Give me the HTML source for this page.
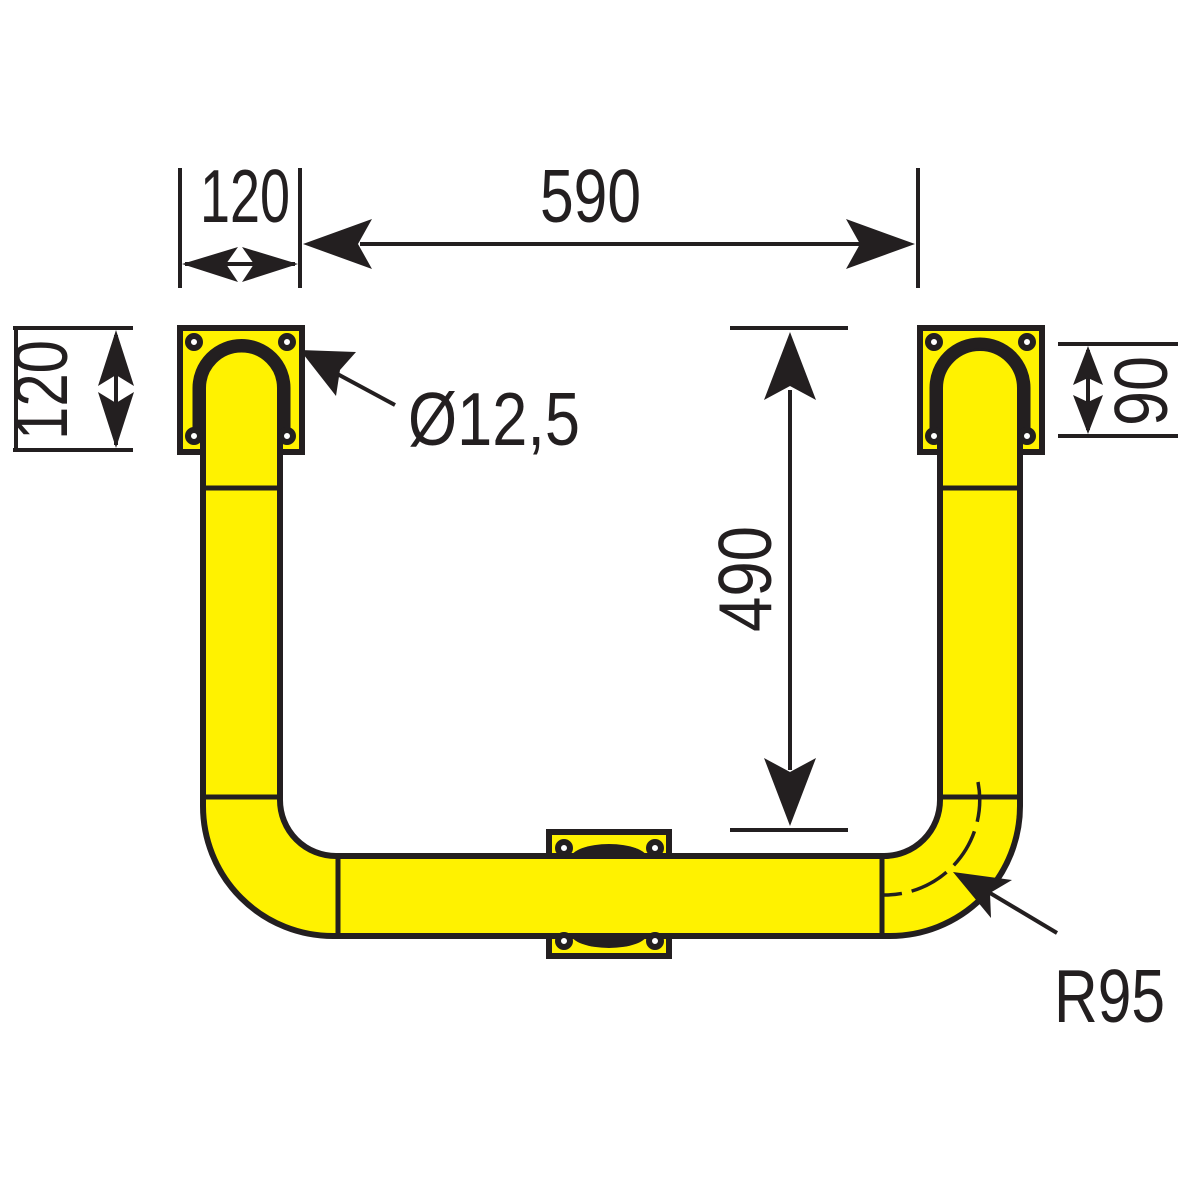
<!DOCTYPE html>
<html><head><meta charset="utf-8"><style>
html,body{margin:0;padding:0;background:#fff;}
svg{display:block}
text{font-family:"Liberation Sans",sans-serif;fill:#231f20;}
</style></head><body>
<svg width="1200" height="1200" viewBox="0 0 1200 1200" xmlns="http://www.w3.org/2000/svg">
<g stroke="#231f20" fill="#fff200">
<rect x="180" y="328" width="122" height="124" stroke-width="6"/>
<rect x="920" y="328" width="122" height="124" stroke-width="6"/>
<rect x="549" y="832" width="120" height="124" stroke-width="6"/>
<ellipse cx="609" cy="858" rx="38" ry="14" fill="#231f20" stroke="none"/>
<ellipse cx="609" cy="934" rx="38" ry="14" fill="#231f20" stroke="none"/>
<path d="M203,388 A38,38 0 0 1 280,388 L280,800 A56,56 0 0 0 336,856 L884,856 A56,56 0 0 0 940,800 L940,388 A40,40 0 0 1 1020,388 L1020,806 A130,130 0 0 1 890,936 L333,936 A130,130 0 0 1 203,806 Z" stroke-width="6"/>
</g>
<g fill="none" stroke="#231f20">
<path d="M198,430 L198,388 A43,43 0 0 1 285,388 L285,430" stroke-width="11"/>
<path d="M935,430 L935,388 A45,45 0 0 1 1025,388 L1025,430" stroke-width="11"/>
<g stroke-width="5">
<line x1="203" y1="488" x2="280" y2="488"/>
<line x1="203" y1="797" x2="280" y2="797"/>
<line x1="940" y1="488" x2="1020" y2="488"/>
<line x1="940" y1="797" x2="1020" y2="797"/>
<line x1="338" y1="856" x2="338" y2="936"/>
<line x1="882" y1="856" x2="882" y2="936"/>
</g>
<path d="M978,782 A95,95 0 0 1 883,895" stroke-width="3.5" stroke-dasharray="40,10"/>
<g stroke-width="6" fill="#fff">
<circle cx="194" cy="342" r="6"/><circle cx="287" cy="342" r="6"/>
<circle cx="194" cy="436" r="6"/><circle cx="287" cy="436" r="6"/>
<circle cx="934" cy="342" r="6"/><circle cx="1027" cy="342" r="6"/>
<circle cx="934" cy="436" r="6"/><circle cx="1027" cy="436" r="6"/>
<circle cx="564" cy="848" r="6"/><circle cx="655" cy="848" r="6"/>
<circle cx="564" cy="941" r="6"/><circle cx="655" cy="941" r="6"/>
</g>
<g stroke-width="4">
<line x1="180" y1="168" x2="180" y2="288"/>
<line x1="300" y1="168" x2="300" y2="288"/>
<line x1="918" y1="168" x2="918" y2="288"/>
<line x1="185" y1="264" x2="295" y2="264"/>
<line x1="360" y1="244" x2="860" y2="244"/>
<line x1="13" y1="328" x2="133" y2="328"/>
<line x1="13" y1="450" x2="133" y2="450"/>
<line x1="16" y1="328" x2="16" y2="450"/>
<line x1="116" y1="335" x2="116" y2="445"/>
<line x1="1058" y1="344" x2="1178" y2="344"/>
<line x1="1058" y1="436" x2="1178" y2="436"/>
<line x1="1088" y1="350" x2="1088" y2="430"/>
<line x1="730" y1="328" x2="848" y2="328"/>
<line x1="730" y1="830" x2="848" y2="830"/>
<line x1="790" y1="390" x2="790" y2="770"/>
<line x1="395" y1="405" x2="330" y2="370"/>
<line x1="1057" y1="933" x2="985" y2="890"/>
</g>
</g>
<g fill="#231f20">
<polygon points="182,264 238,247 226,264 238,282"/>
<polygon points="298,264 242,247 254,264 242,282"/>
<polygon points="303,244 372,219 358,244 372,269"/>
<polygon points="915,244 846,219 860,244 846,269"/>
<polygon points="116,330 98,386 116,375 134,386"/>
<polygon points="116,448 98,392 116,403 134,392"/>
<polygon points="1088,346 1073,385 1088,378 1103,385"/>
<polygon points="1088,434 1073,395 1088,402 1103,395"/>
<polygon points="790,332 764,400 790,386 816,400"/>
<polygon points="790,826 764,758 790,772 816,758"/>
<polygon points="300,350 356,352 340,370 336,396"/>
<polygon points="953,872 1012,880 990,893 991,918"/>
</g>
<g font-size="75">
<text x="200" y="222" textLength="90" lengthAdjust="spacingAndGlyphs">120</text>
<text x="540" y="222" textLength="101" lengthAdjust="spacingAndGlyphs">590</text>
<text transform="translate(67,440) rotate(-90)" textLength="100" lengthAdjust="spacingAndGlyphs">120</text>
<text transform="translate(1167,426) rotate(-90)" textLength="70" lengthAdjust="spacingAndGlyphs">90</text>
<text transform="translate(771,632) rotate(-90)" textLength="106" lengthAdjust="spacingAndGlyphs">490</text>
<text x="408" y="445" textLength="172" lengthAdjust="spacingAndGlyphs">Ø12,5</text>
<text x="1054" y="1022" textLength="111" lengthAdjust="spacingAndGlyphs">R95</text>
</g>
</svg>
</body></html>
